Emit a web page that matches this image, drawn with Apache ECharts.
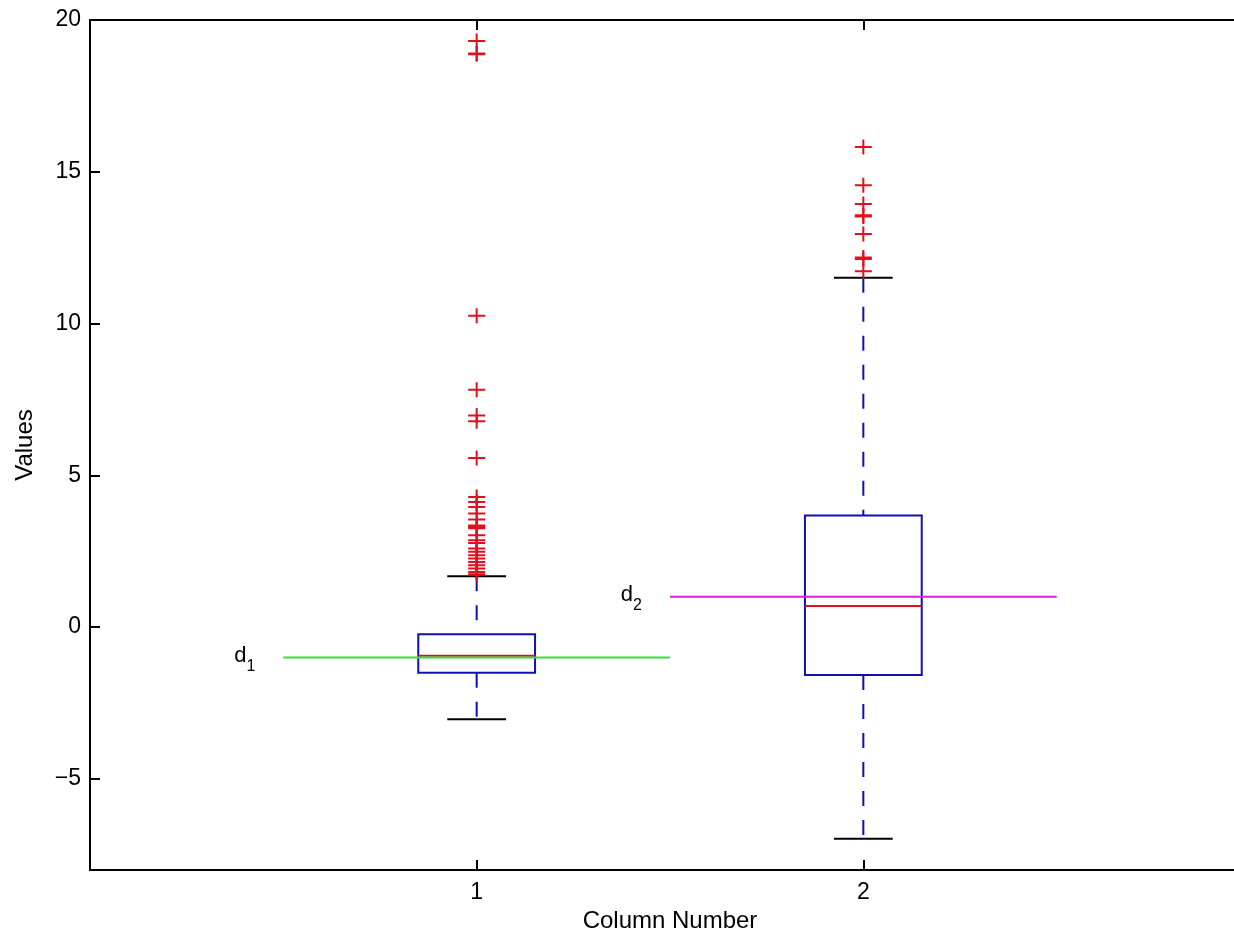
<!DOCTYPE html>
<html>
<head>
<meta charset="utf-8">
<script src="https://cdn.jsdelivr.net/npm/echarts@6/dist/echarts.min.js"></script>
<style>
html,body{margin:0;padding:0;background:#fff;overflow:hidden;}
#chart{width:1234px;height:932px;}
</style>
</head>
<body>
<div id="chart"></div>
<script>
// ---- data ----
const categories = [1, 2];
// [lower whisker, q1, median, q3, upper whisker]
const box1 = [-3.03, -1.50, -0.94, -0.23, 1.68];
const box2 = [-6.97, -1.58, 0.70, 3.68, 11.51];
const outliers1 = [19.31, 18.90, 18.87, 10.26, 7.82, 6.97, 6.78, 5.57, 4.29, 4.12, 3.96, 3.74, 3.55,
  3.35, 3.30, 3.26, 3.03, 2.86, 2.77, 2.59, 2.48, 2.37, 2.26, 2.15, 2.04, 1.93, 1.82, 1.74];
const outliers2 = [15.82, 14.56, 13.94, 13.57, 13.53, 12.95, 12.18, 12.13, 11.72];
const d1 = {name: '1', y: -1, from: 0.5, to: 1.5};
const d2 = {name: '2', y: 1, from: 1.5, to: 2.5};
const yTicks = [-5, 0, 5, 10, 15, 20];
const xTicks = [1, 2];
const yRange = [-8, 20];
const xRange = [0, 3];

// ---- styles ----
const FONT = 'Liberation Sans';
const BLUE = '#1010b0';
const RED = '#e0101e';
const GREEN = '#33e033';
const MAGENTA = '#e01ee0';
const BOX_HALF = 0.151;
const CAP_HALF = 0.076;

const boxData = [box1, box2].map((b, i) => [categories[i]].concat(b));

function renderBox(params, api) {
  const x = api.value(0);
  const mn = api.value(1), q1 = api.value(2), md = api.value(3), q3 = api.value(4), mx = api.value(5);
  const tl = api.coord([x - BOX_HALF, q3]);
  const br = api.coord([x + BOX_HALF, q1]);
  const cTop = api.coord([x, q3]);
  const cBot = api.coord([x, q1]);
  const wTop = api.coord([x, mx]);
  const wBot = api.coord([x, mn]);
  const capL = api.coord([x - CAP_HALF, mx])[0];
  const capR = api.coord([x + CAP_HALF, mx])[0];
  const mL = api.coord([x - BOX_HALF, md]);
  const mR = api.coord([x + BOX_HALF, md]);
  const dash = {stroke: BLUE, lineWidth: 2, lineDash: [15, 14]};
  return {
    type: 'group',
    children: [
      {type: 'line', shape: {x1: cTop[0], y1: wTop[1], x2: cTop[0], y2: cTop[1]}, style: dash},
      {type: 'line', shape: {x1: cBot[0], y1: cBot[1], x2: cBot[0], y2: wBot[1]}, style: dash},
      {type: 'line', shape: {x1: capL, y1: wTop[1], x2: capR, y2: wTop[1]}, style: {stroke: '#000', lineWidth: 2}},
      {type: 'line', shape: {x1: capL, y1: wBot[1], x2: capR, y2: wBot[1]}, style: {stroke: '#000', lineWidth: 2}},
      {type: 'rect', shape: {x: tl[0], y: tl[1], width: br[0] - tl[0], height: br[1] - tl[1]},
        style: {stroke: BLUE, fill: 'none', lineWidth: 2}},
      {type: 'line', shape: {x1: mL[0], y1: mL[1], x2: mR[0], y2: mR[1]}, style: {stroke: RED, lineWidth: 2}}
    ]
  };
}

function refLine(d, color) {
  return {
    type: 'line',
    data: [
      {value: [d.from, d.y], label: {
        show: true, position: 'left', distance: 28, offset: [0, 2],
        formatter: '{d|d}{s|' + d.name + '}',
        rich: {
          d: {fontSize: 22, fontFamily: FONT, color: '#000', verticalAlign: 'top', lineHeight: 30},
          s: {fontSize: 16, fontFamily: FONT, color: '#000', verticalAlign: 'bottom', lineHeight: 30}
        }
      }},
      [d.to, d.y]
    ],
    symbol: 'circle', symbolSize: 0, showSymbol: true,
    lineStyle: {color: color, width: 2},
    itemStyle: {color: color},
    silent: true, animation: false, z: 3
  };
}

const plusPath = 'path://M0,6.5H17V8.5H0Z M7.5,0H9.5V15H7.5Z';
const outlierData = outliers1.map(v => [categories[0], v]).concat(outliers2.map(v => [categories[1], v]));

const axisText = {color: '#000', fontSize: 23, fontFamily: FONT};
const nameText = {color: '#000', fontSize: 24, fontFamily: FONT};
const minusFmt = v => String(v).replace('-', '\u2212');

const option = {
  backgroundColor: '#fff',
  animation: false,
  grid: {left: 90, top: 20, bottom: 62, width: 1160, containLabel: false, outerBoundsMode: 'none'},
  xAxis: [{
    type: 'value', min: xRange[0], max: xRange[1], position: 'bottom',
    axisLine: {show: true, onZero: false, lineStyle: {color: '#000', width: 2}},
    axisTick: {show: true, inside: true, length: 10, customValues: xTicks, lineStyle: {color: '#000', width: 2}},
    axisLabel: Object.assign({show: true, margin: 11, customValues: xTicks}, axisText),
    splitLine: {show: false},
    name: 'Column Number', nameLocation: 'middle', nameGap: 36,
    nameTextStyle: nameText
  }, {
    type: 'value', min: xRange[0], max: xRange[1], position: 'top',
    axisLine: {show: true, onZero: false, lineStyle: {color: '#000', width: 2}},
    axisTick: {show: true, inside: true, length: 10, customValues: xTicks, lineStyle: {color: '#000', width: 2}},
    axisLabel: {show: false},
    splitLine: {show: false}
  }],
  yAxis: [{
    type: 'value', min: yRange[0], max: yRange[1],
    axisLine: {show: true, onZero: false, lineStyle: {color: '#000', width: 2}},
    axisTick: {show: true, inside: true, length: 10, customValues: yTicks, lineStyle: {color: '#000', width: 2}},
    axisLabel: Object.assign({show: true, margin: 9, customValues: yTicks, formatter: minusFmt}, axisText),
    splitLine: {show: false},
    name: 'Values', nameLocation: 'middle', nameGap: 53,
    nameTextStyle: nameText
  }],
  series: [
    {
      type: 'custom', renderItem: renderBox, data: boxData,
      encode: {x: 0, y: [1, 2, 3, 4, 5]}, z: 2, silent: true
    },
    refLine(d1, GREEN),
    refLine(d2, MAGENTA),
    {
      type: 'scatter', data: outlierData, symbol: plusPath, symbolSize: [17, 15],
      itemStyle: {color: RED, opacity: 1}, z: 4, silent: true
    }
  ]
};

const chart = echarts.init(document.getElementById('chart'), null, {renderer: 'canvas'});
chart.setOption(option);
</script>
</body>
</html>
